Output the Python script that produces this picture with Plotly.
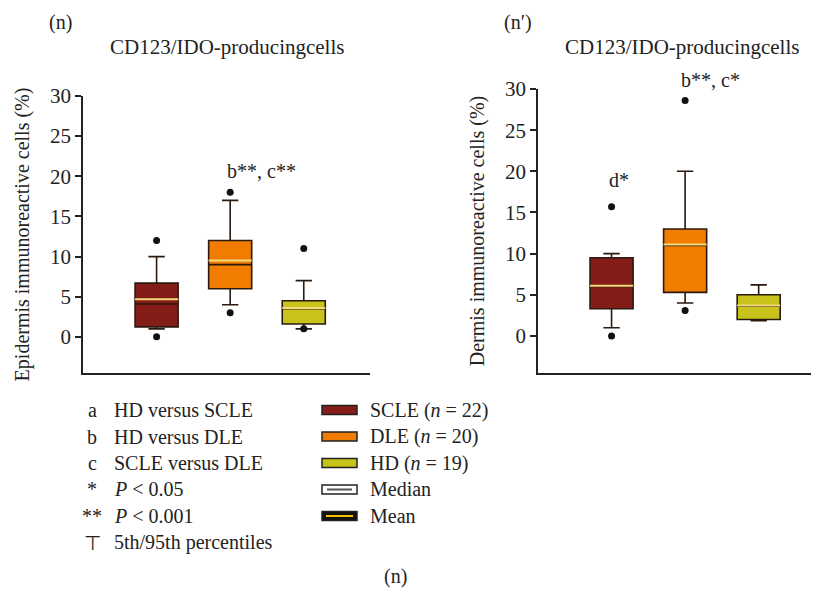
import plotly.graph_objects as go

# ---------------- data ----------------
groups = ["SCLE", "DLE", "HD"]
group_n = [22, 20, 19]
positions = [1, 2, 3]

# Epidermis (panel n)
epi_p5 = [1.0, 4.0, 1.0]
epi_q1 = [1.25, 6.0, 1.6]
epi_median = [4.1, 9.0, 3.5]
epi_q3 = [6.7, 12.0, 4.5]
epi_p95 = [10.0, 17.0, 7.0]
epi_mean = [4.7, 9.5, 3.6]
epi_outliers = [[12.0, 0.0], [18.0, 3.0], [11.0, 1.0]]

# Dermis (panel n')
der_p5 = [1.0, 4.0, 1.85]
der_q1 = [3.3, 5.3, 2.0]
der_median = [6.0, 11.0, 3.6]
der_q3 = [9.5, 13.0, 5.0]
der_p95 = [10.0, 20.0, 6.2]
der_mean = [6.1, 11.1, 3.7]
der_outliers = [[15.7, 0.0], [28.6, 3.1], []]

y_ticks = [0, 5, 10, 15, 20, 25, 30]

# ---------------- style ----------------
FONT = "Liberation Serif"
fills = ["#841C17", "#F07D00", "#C8C31B"]
edge = "#2A1A10"
mean_col = "#F4D97C"
box_w = 0.585
OFF = 8                      # page body margin
W, H = 819 - OFF, 590 - OFF  # figure size


def px(x):
    return (x - OFF) / W


def py(y):
    return 1 - (y - OFF) / H


fig = go.Figure()


def add_panel(xa, ya, p5, q1, med, q3, p95, mean, outl):
    for i, g in enumerate(groups):
        fig.add_trace(go.Box(
            x=[positions[i]], q1=[q1[i]], median=[med[i]], q3=[q3[i]],
            lowerfence=[p5[i]], upperfence=[p95[i]],
            width=box_w, whiskerwidth=0.38, fillcolor=fills[i],
            line=dict(color=edge, width=1.6), boxpoints=False,
            showlegend=False, xaxis=xa, yaxis=ya, name=g))
    for i in range(len(groups)):
        fig.add_trace(go.Scatter(
            x=[positions[i] - box_w / 2, positions[i] + box_w / 2],
            y=[mean[i], mean[i]], mode="lines",
            line=dict(color=mean_col, width=2), showlegend=False,
            hoverinfo="skip", xaxis=xa, yaxis=ya))
    ox, oy = [], []
    for i, vals in enumerate(outl):
        for v in vals:
            ox.append(positions[i])
            oy.append(v)
    fig.add_trace(go.Scatter(
        x=ox, y=oy, mode="markers",
        marker=dict(color="#111111", size=7), showlegend=False,
        xaxis=xa, yaxis=ya))


add_panel("x", "y", epi_p5, epi_q1, epi_median, epi_q3, epi_p95, epi_mean, epi_outliers)
add_panel("x2", "y2", der_p5, der_q1, der_median, der_q3, der_p95, der_mean, der_outliers)

axis_common = dict(showline=True, linecolor="#222222", linewidth=1.5,
                   showgrid=False, zeroline=False)
xcommon = dict(axis_common, showticklabels=False, ticks="", fixedrange=True)
ycommon = dict(axis_common, range=[-4.5, 30], tickvals=y_ticks, ticks="outside",
               ticklen=6, tickwidth=1.5, tickcolor="#222222",
               tickfont=dict(family=FONT, size=21, color="#222222"),
               automargin=False)

fig.update_layout(
    width=W, height=H,
    margin=dict(l=0, r=0, t=0, b=0),
    paper_bgcolor="white", plot_bgcolor="white",
    font=dict(family=FONT, size=20, color="#222222"),
    boxmode="overlay",
    xaxis=dict(xcommon, domain=[px(83), px(370)], range=[0, 3.9], anchor="y"),
    yaxis=dict(ycommon, domain=[py(373), py(96)], anchor="x",
               title=dict(text="Epidermis immunoreactive cells (%)",
                          font=dict(family=FONT, size=20, color="#222222"),
                          standoff=15)),
    xaxis2=dict(xcommon, domain=[px(538), 1.0], range=[0, 3.82], anchor="y2"),
    yaxis2=dict(ycommon, domain=[py(373), py(89)], anchor="x2",
                title=dict(text="Dermis immunoreactive cells (%)",
                           font=dict(family=FONT, size=20, color="#222222"),
                           standoff=15)),
)

ann = []


def text(x, y, s, xanchor="center", size=20, xref="paper", yref="paper"):
    ann.append(dict(x=x, y=y, xref=xref, yref=yref, text=s, showarrow=False,
                    xanchor=xanchor, yanchor="middle",
                    font=dict(family=FONT, size=size, color="#222222")))


# panel labels and titles
text(px(60), py(22), "(n)")
text(px(227), py(47), "CD123/IDO-producingcells", size=21)
text(px(518), py(22), "(n\u2032)")
text(px(682), py(47), "CD123/IDO-producingcells", size=21)

# significance labels
text(2.42, 20.7, "b**, c**", xref="x", yref="y")
text(1.10, 19.0, "d*", xref="x2", yref="y2")
text(2.34, py(80), "b**, c*", xref="x2", yref="paper")

# legend, left column
left_syms = ["a", "b", "c", "*", "**", "\u22a4"]
left_txt = ["HD versus SCLE", "HD versus DLE", "SCLE versus DLE",
            "<i>P</i> &lt; 0.05", "<i>P</i> &lt; 0.001", "5th/95th percentiles"]
row_y = [410, 436.5, 463, 489.5, 516, 542.5]
for s, t, yy in zip(left_syms, left_txt, row_y):
    text(px(92), py(yy), s)
    text(px(112), py(yy), t, xanchor="left")

# legend, right column
right_txt = [f"{g} (<i>n</i> = {n})" for g, n in zip(groups, group_n)] + ["Median", "Mean"]
shapes = []
for i, (t, yy) in enumerate(zip(right_txt, row_y[:5])):
    text(px(368), py(yy), t, xanchor="left")
    if i < 3:
        fc = fills[i]
    elif i == 3:
        fc = "white"
    else:
        fc = "#111111"
    shapes.append(dict(type="rect", xref="paper", yref="paper",
                       x0=px(322), x1=px(357), y0=py(yy + 4.5), y1=py(yy - 4.5),
                       fillcolor=fc, line=dict(color="#222222", width=1.5)))
    if i == 3:
        shapes.append(dict(type="line", xref="paper", yref="paper",
                           x0=px(327), x1=px(352), y0=py(yy), y1=py(yy),
                           line=dict(color="#555555", width=2)))
    if i == 4:
        shapes.append(dict(type="line", xref="paper", yref="paper",
                           x0=px(326), x1=px(353), y0=py(yy), y1=py(yy),
                           line=dict(color="#F2C200", width=2)))

text(px(395), py(576), "(n)")

fig.update_layout(annotations=ann, shapes=shapes)

fig.write_html("out.html")
